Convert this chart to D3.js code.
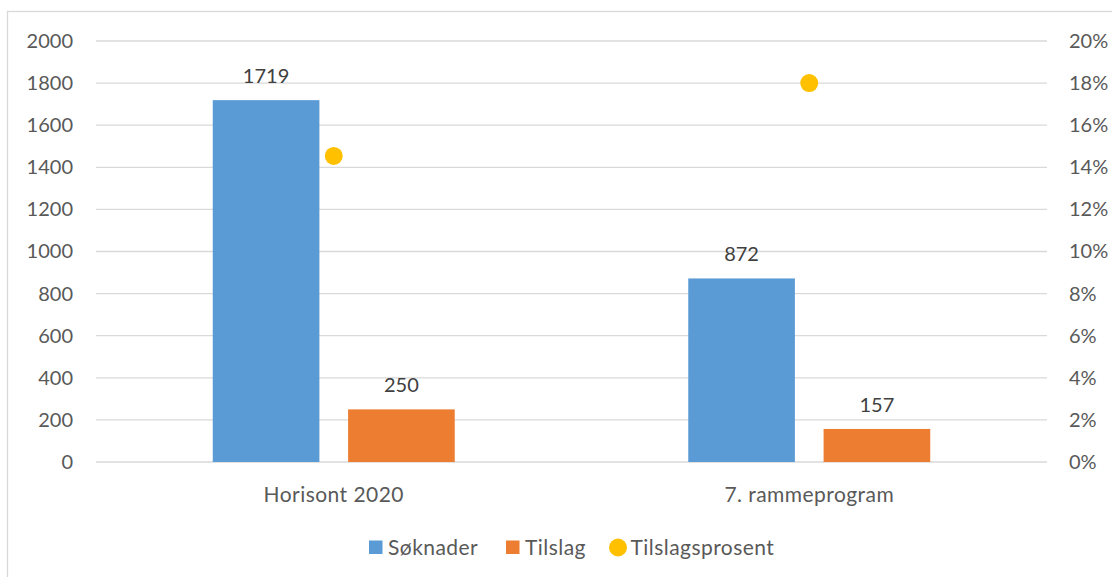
<!DOCTYPE html>
<html>
<head>
<meta charset="utf-8">
<script src="https://cdn.jsdelivr.net/npm/d3@7"></script>
<style>
  html, body { margin: 0; padding: 0; background: #fff; }
  svg { display: block; font-family: Lato, "Open Sans", sans-serif; }
</style>
</head>
<body>
<svg id="chart" width="1112" height="577"></svg>
<script>
const categories = ["Horisont 2020", "7. rammeprogram"];
const seriesNames = ["Søknader", "Tilslag", "Tilslagsprosent"];
const soknader = [1719, 872];
const tilslag = [250, 157];
const tilslagsprosent = [0.1454, 0.1800];
const leftTicks = [0, 200, 400, 600, 800, 1000, 1200, 1400, 1600, 1800, 2000];
const rightTicks = [0, 0.02, 0.04, 0.06, 0.08, 0.10, 0.12, 0.14, 0.16, 0.18, 0.20];

const colors = { "Søknader": "#5B9BD5", "Tilslag": "#ED7D31", "Tilslagsprosent": "#FFC000" };
const textColor = "#595959";
const labelColor = "#404040";
const gridColor = "#D9D9D9";
const fontSize = 20;
const wordSize = 21;
const wordSpacing = "0.45px";

const svg = d3.select("#chart");
const W = 1112, H = 577;
const plot = { left: 96, right: 1047, top: 41, bottom: 462 };

// Outer chart border
svg.append("rect")
  .attr("x", 7.5).attr("y", 11.5)
  .attr("width", W + 20).attr("height", H + 20)
  .attr("fill", "#fff").attr("stroke", gridColor).attr("stroke-width", 1.3);

const y = d3.scaleLinear().domain([0, 2000]).range([plot.bottom, plot.top]);
const y2 = d3.scaleLinear().domain([0, 0.2]).range([plot.bottom, plot.top]);
const x0 = d3.scaleBand().domain(categories).range([plot.left, plot.right]).paddingInner(0).paddingOuter(0);
const groupPad = 116.75;
const x1 = d3.scaleBand().domain(["Søknader", "Tilslag"])
  .range([groupPad, x0.bandwidth() - groupPad]).paddingInner(0.212).paddingOuter(0);

// Gridlines
svg.append("g").selectAll("line").data(leftTicks).join("line")
  .attr("x1", plot.left).attr("x2", plot.right)
  .attr("y1", d => y(d)).attr("y2", d => y(d))
  .attr("stroke", gridColor).attr("stroke-width", 1.3);

// Left axis
const leftAxis = d3.axisLeft(y).tickValues(leftTicks).tickSize(0).tickPadding(0).tickFormat(d3.format("d"));
const gL = svg.append("g").attr("transform", `translate(73,0)`).call(leftAxis);
gL.select(".domain").remove();
gL.selectAll("text").attr("fill", textColor).style("font-size", fontSize + "px").style("font-family", "Lato");

// Right axis
const rightAxis = d3.axisRight(y2).tickValues(rightTicks).tickSize(0).tickPadding(0).tickFormat(d3.format(".0%"));
const gR = svg.append("g").attr("transform", `translate(1069,0)`).call(rightAxis);
gR.select(".domain").remove();
gR.selectAll("text").attr("fill", textColor).style("font-size", fontSize + "px").style("font-family", "Lato");

// Category axis labels
const xAxis = d3.axisBottom(x0).tickSize(0).tickPadding(0);
const gX = svg.append("g").attr("transform", `translate(0,${plot.bottom})`).call(xAxis);
gX.select(".domain").remove();
gX.selectAll("text").attr("fill", textColor).attr("dy", null).attr("y", 39.5)
  .style("font-size", wordSize + "px").style("font-family", "Lato").style("letter-spacing", wordSpacing);

// Bars
const barData = [];
categories.forEach((c, i) => {
  barData.push({ cat: c, series: "Søknader", value: soknader[i] });
  barData.push({ cat: c, series: "Tilslag", value: tilslag[i] });
});

svg.append("g").selectAll("rect").data(barData).join("rect")
  .attr("x", d => x0(d.cat) + x1(d.series))
  .attr("width", x1.bandwidth())
  .attr("y", d => y(d.value))
  .attr("height", d => y(0) - y(d.value))
  .attr("fill", d => colors[d.series]);

// Data labels
svg.append("g").selectAll("text").data(barData).join("text")
  .attr("x", d => x0(d.cat) + x1(d.series) + x1.bandwidth() / 2)
  .attr("y", d => y(d.value) - 17)
  .attr("text-anchor", "middle")
  .attr("fill", labelColor)
  .style("font-size", fontSize + "px")
  .text(d => d.value);

// Percent points
svg.append("g").selectAll("circle").data(categories).join("circle")
  .attr("cx", d => x0(d) + x0.bandwidth() / 2)
  .attr("cy", (d, i) => y2(tilslagsprosent[i]))
  .attr("r", 9)
  .attr("fill", colors["Tilslagsprosent"]);

// Legend
const legendItems = [
  { name: seriesNames[0], shape: "rect", x: 369 },
  { name: seriesNames[1], shape: "rect", x: 506 },
  { name: seriesNames[2], shape: "circle", x: 609 }
];
const lg = svg.append("g");
legendItems.forEach(it => {
  if (it.shape === "rect") {
    lg.append("rect").attr("x", it.x).attr("y", 540.5).attr("width", 13.5).attr("height", 13.5)
      .attr("fill", colors[it.name]);
    lg.append("text").attr("x", it.x + 19).attr("y", 554.5).attr("fill", textColor)
      .style("font-size", wordSize + "px").style("letter-spacing", wordSpacing).text(it.name);
  } else {
    lg.append("circle").attr("cx", it.x + 9).attr("cy", 547.5).attr("r", 9)
      .attr("fill", colors[it.name]);
    lg.append("text").attr("x", it.x + 21.5).attr("y", 554.5).attr("fill", textColor)
      .style("font-size", wordSize + "px").style("letter-spacing", wordSpacing).text(it.name);
  }
});
</script>
</body>
</html>
